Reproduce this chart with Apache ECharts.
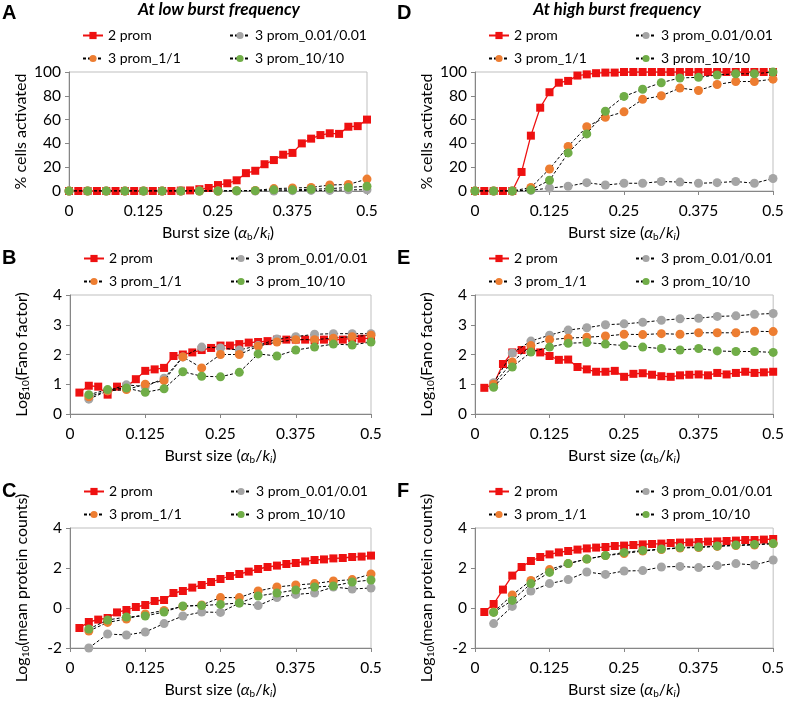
<!DOCTYPE html>
<html><head><meta charset="utf-8">
<script src="https://cdn.jsdelivr.net/npm/echarts/dist/echarts.min.js"></script>
<style>html,body{margin:0;padding:0;background:#fff}#c{width:787px;height:704px}</style>
</head><body><div id="c"></div><script>
// x positions (burst size)
const X64 = [0.015625,0.03125,0.046875,0.0625,0.078125,0.09375,0.109375,0.125,0.140625,0.15625,0.171875,0.1875,0.203125,0.21875,0.234375,0.25,0.265625,0.28125,0.296875,0.3125,0.328125,0.34375,0.359375,0.375,0.390625,0.40625,0.421875,0.4375,0.453125,0.46875,0.484375,0.5];
const X32 = [0.03125,0.0625,0.09375,0.125,0.15625,0.1875,0.21875,0.25,0.28125,0.3125,0.34375,0.375,0.40625,0.4375,0.46875,0.5];
const X64_0 = [0].concat(X64);
const X32_0 = [0].concat(X32);
const xTicks = [0, 0.125, 0.25, 0.375, 0.5];
const seriesNames = ['2 prom', '3 prom_0.01/0.01', '3 prom_1/1', '3 prom_10/10'];

// Panel A: % cells activated, low burst frequency
const A_red = [0,0,0,0,0,0,0,0,0,0,0,0,0.3,0.5,1.5,2.5,5,6.5,9,15,17,22.5,26,30.5,32,40,44,47,48.5,48,54,54.5,60];
const A_gray = [0,0,0,0,0,0,0,0,0,0,0,0,0.3,0.5,0.5,1,1];
const A_orange = [0,0,0,0,0,0,0,0,0,0.3,0.5,2,2.5,3,5,5.5,10];
const A_green = [0,0,0,0,0,0,0,0,0,0.2,0.3,1,1,1.5,2,3,4];
// Panel D: % cells activated, high burst frequency
const D_red = [0,0,0,0,0,16,46.5,70,83,91,92.5,97,98,99,99.5,99.5,100,100,100,100,100,100,100,100,100,100,100,100,100,100,100,100,100];
const D_gray = [0,0,0,0.5,2.5,4,7,5,6.5,6.5,8,7.5,6.5,7,8,6.5,10.5];
const D_orange = [0,0,0,3,18.5,37.5,54,62,66.5,77,80,86.5,84.5,89.5,92,92,94];
const D_green = [0,0,0,1,9,32,48,67,79.5,85.5,91,95,95.5,97.5,98.5,98.5,100];
// Panel B: log10 Fano factor, low
const B_red = [0.72,0.95,0.92,0.65,0.92,0.92,1.17,1.45,1.5,1.55,1.95,2.0,2.07,2.15,2.22,2.3,2.3,2.35,2.4,2.42,2.45,2.5,2.5,2.5,2.5,2.48,2.5,2.5,2.5,2.55,2.53,2.55];
const B_gray = [0.5,0.78,0.98,0.92,1.2,1.92,2.25,2.22,2.15,2.3,2.52,2.6,2.68,2.7,2.7,2.7];
const B_orange = [0.58,0.78,0.82,1.0,1.12,1.92,1.55,2.0,2.0,2.28,2.42,2.5,2.5,2.55,2.6,2.65];
const B_green = [0.65,0.82,0.87,0.73,0.85,1.42,1.27,1.25,1.4,2.02,1.95,2.15,2.25,2.35,2.32,2.42];
// Panel E: log10 Fano factor, high
const E_red = [0.88,1.0,1.68,2.07,2.15,2.2,2.07,1.95,1.82,1.83,1.58,1.5,1.42,1.42,1.45,1.25,1.35,1.37,1.32,1.27,1.25,1.3,1.32,1.33,1.3,1.38,1.33,1.38,1.42,1.38,1.4,1.42];
const E_gray = [1.05,2.05,2.45,2.65,2.82,2.9,3.0,3.03,3.08,3.15,3.2,3.22,3.28,3.3,3.35,3.38];
const E_orange = [1.0,1.75,2.3,2.5,2.55,2.58,2.62,2.68,2.67,2.7,2.68,2.73,2.73,2.73,2.78,2.77];
const E_green = [0.9,1.58,2.08,2.25,2.38,2.4,2.35,2.3,2.25,2.2,2.15,2.2,2.12,2.1,2.1,2.07];
// Panel C: log10 mean protein counts, low
const C_red = [-1.0,-0.7,-0.58,-0.5,-0.22,-0.1,0.05,0.15,0.35,0.4,0.75,0.85,1.02,1.15,1.3,1.45,1.6,1.7,1.82,1.95,2.05,2.12,2.2,2.25,2.33,2.4,2.43,2.48,2.5,2.55,2.57,2.62];
const C_gray = [-2.0,-1.3,-1.35,-1.2,-0.78,-0.4,-0.2,-0.22,0.25,0.12,0.52,0.68,0.75,1.05,0.95,1.0];
const C_orange = [-1.15,-0.72,-0.55,-0.3,-0.12,0.08,0.15,0.52,0.52,0.85,1.05,1.15,1.22,1.35,1.42,1.7];
const C_green = [-1.05,-0.6,-0.45,-0.4,-0.2,0.1,0.12,0.18,0.25,0.6,0.75,0.9,1.05,1.1,1.3,1.4];
// Panel F: log10 mean protein counts, high
const F_red = [-0.2,0.2,0.92,1.62,2.05,2.35,2.55,2.68,2.78,2.85,2.92,2.98,3.02,3.05,3.1,3.12,3.15,3.18,3.2,3.22,3.25,3.27,3.28,3.3,3.32,3.33,3.35,3.37,3.4,3.4,3.42,3.45];
const F_gray = [-0.78,0.08,0.85,1.22,1.42,1.8,1.68,1.85,1.87,2.05,2.08,2.02,2.12,2.22,2.15,2.4];
const F_orange = [-0.2,0.65,1.38,1.92,2.22,2.45,2.62,2.72,2.85,2.92,3.0,3.02,3.08,3.12,3.15,3.22];
const F_green = [-0.22,0.38,1.22,1.78,2.22,2.45,2.62,2.78,2.88,2.95,3.02,3.05,3.1,3.15,3.18,3.22];

const FONT = 'Lato';
const panels = [
  {letter:'A', left:69, width:298, top:72, height:119, ymin:0, ymax:100, yint:20, yname:'% cells activated', xr:X64_0, xc:X32_0, d:[A_red,A_gray,A_orange,A_green]},
  {letter:'D', left:475, width:298, top:72, height:119, ymin:0, ymax:100, yint:20, yname:'% cells activated', xr:X64_0, xc:X32_0, d:[D_red,D_gray,D_orange,D_green]},
  {letter:'B', left:70, width:301, top:295, height:119, ymin:0, ymax:4, yint:1, yname:'Log{sub|10}(Fano factor)', xr:X64, xc:X32, d:[B_red,B_gray,B_orange,B_green]},
  {letter:'E', left:475, width:300, top:295, height:119, ymin:0, ymax:4, yint:1, yname:'Log{sub|10}(Fano factor)', xr:X64, xc:X32, d:[E_red,E_gray,E_orange,E_green]},
  {letter:'C', left:70, width:301, top:528, height:120, ymin:-2, ymax:4, yint:2, yname:'Log{sub|10}(mean protein counts)', xr:X64, xc:X32, d:[C_red,C_gray,C_orange,C_green]},
  {letter:'F', left:475, width:300, top:528, height:120, ymin:-2, ymax:4, yint:2, yname:'Log{sub|10}(mean protein counts)', xr:X64, xc:X32, d:[F_red,F_gray,F_orange,F_green]}
];
const letterPos = {A:[2,3], D:[397,3], B:[2,248], E:[397,248], C:[2,481], F:[397,481]};
const colors = ['#ee1111', '#a5a5a5', '#ed7d31', '#70ad47'];

const richName = {
  sub: {fontSize: 10, fontFamily: FONT, verticalAlign: 'bottom', lineHeight: 10, color: '#000'},
  it: {fontSize: 16, fontFamily: FONT, fontStyle: 'italic', color: '#000', lineHeight: 19},
  subi: {fontSize: 10, fontFamily: FONT, fontStyle: 'italic', verticalAlign: 'bottom', lineHeight: 10, color: '#000'}
};

const grid = [], xAxis = [], yAxis = [], series = [], legend = [], graphic = [];
panels.forEach((p, i) => {
  grid.push({left: p.left, top: p.top, width: p.width, height: p.height, show: true, borderColor: '#bfbfbf', borderWidth: 1, containLabel: false});
  xAxis.push({
    gridIndex: i, type: 'value', min: 0, max: 0.5, interval: 0.125,
    axisLine: {onZero: false, lineStyle: {color: '#868686', width: 1}},
    axisTick: {show: true, length: 4, inside: false, lineStyle: {color: '#868686'}},
    splitLine: {show: false},
    axisLabel: {margin: 12, fontFamily: FONT, fontSize: 15.5, color: '#000', formatter: v => String(v)},
    name: 'Burst size ({it|α}{sub|b}/{it|k}{subi|i})', nameLocation: 'middle', nameGap: 32,
    nameTextStyle: {fontFamily: FONT, fontSize: 16, color: '#000', lineHeight: 19, rich: richName}
  });
  yAxis.push({
    gridIndex: i, type: 'value', min: p.ymin, max: p.ymax, interval: p.yint,
    axisLine: {show: true, lineStyle: {color: '#868686', width: 1}},
    axisTick: {show: true, length: 4, inside: false, lineStyle: {color: '#868686'}},
    splitLine: {show: false},
    axisLabel: {margin: 8, fontFamily: FONT, fontSize: 15.5, color: '#000'},
    name: p.yname, nameLocation: 'middle', nameGap: 39, nameRotate: 90,
    nameTextStyle: {fontFamily: FONT, fontSize: 16, color: '#000', lineHeight: 19, rich: richName}
  });
  p.d.forEach((arr, j) => {
    const xs = j === 0 ? p.xr : p.xc;
    const data = arr.map((v, k) => [xs[k], v]);
    series.push({
      name: seriesNames[j], type: 'line', xAxisIndex: i, yAxisIndex: i, data,
      symbol: j === 0 ? 'rect' : 'circle', symbolSize: j === 0 ? 8 : 9,
      itemStyle: {color: colors[j]},
      lineStyle: j === 0 ? {color: colors[0], width: 1.3, type: 'solid'} : {color: '#000', width: 1, type: [3, 2]},
      emphasis: {disabled: true}, animation: false, z: 2 + j
    });
  });
  const legBase = {orient: 'vertical', selectedMode: false, itemWidth: 20, itemHeight: 9, itemGap: 8,
    textStyle: {fontFamily: FONT, fontSize: 14, color: '#000', lineHeight: 15}, padding: 0};
  legend.push(Object.assign({}, legBase, {left: p.left + 13, top: p.top - 44, data: ['2 prom', '3 prom_1/1']}));
  legend.push(Object.assign({}, legBase, {left: p.left + 160, top: p.top - 44, data: ['3 prom_0.01/0.01', '3 prom_10/10']}));
  const lp = letterPos[p.letter];
  graphic.push({type: 'text', left: lp[0], top: lp[1], style: {text: p.letter, font: 'bold 20px "Liberation Sans"', fill: '#000'}});
});
graphic.push({type: 'text', x: 219, y: 10, style: {text: 'At low burst frequency', font: 'italic bold 17px Lato', fill: '#000', textAlign: 'center', textVerticalAlign: 'middle'}});
graphic.push({type: 'text', x: 617, y: 10, style: {text: 'At high burst frequency', font: 'italic bold 17px Lato', fill: '#000', textAlign: 'center', textVerticalAlign: 'middle'}});

const chart = echarts.init(document.getElementById('c'), null, {renderer: 'canvas'});
chart.setOption({animation: false, backgroundColor: '#fff', grid, xAxis, yAxis, series, legend, graphic});
</script></body></html>
